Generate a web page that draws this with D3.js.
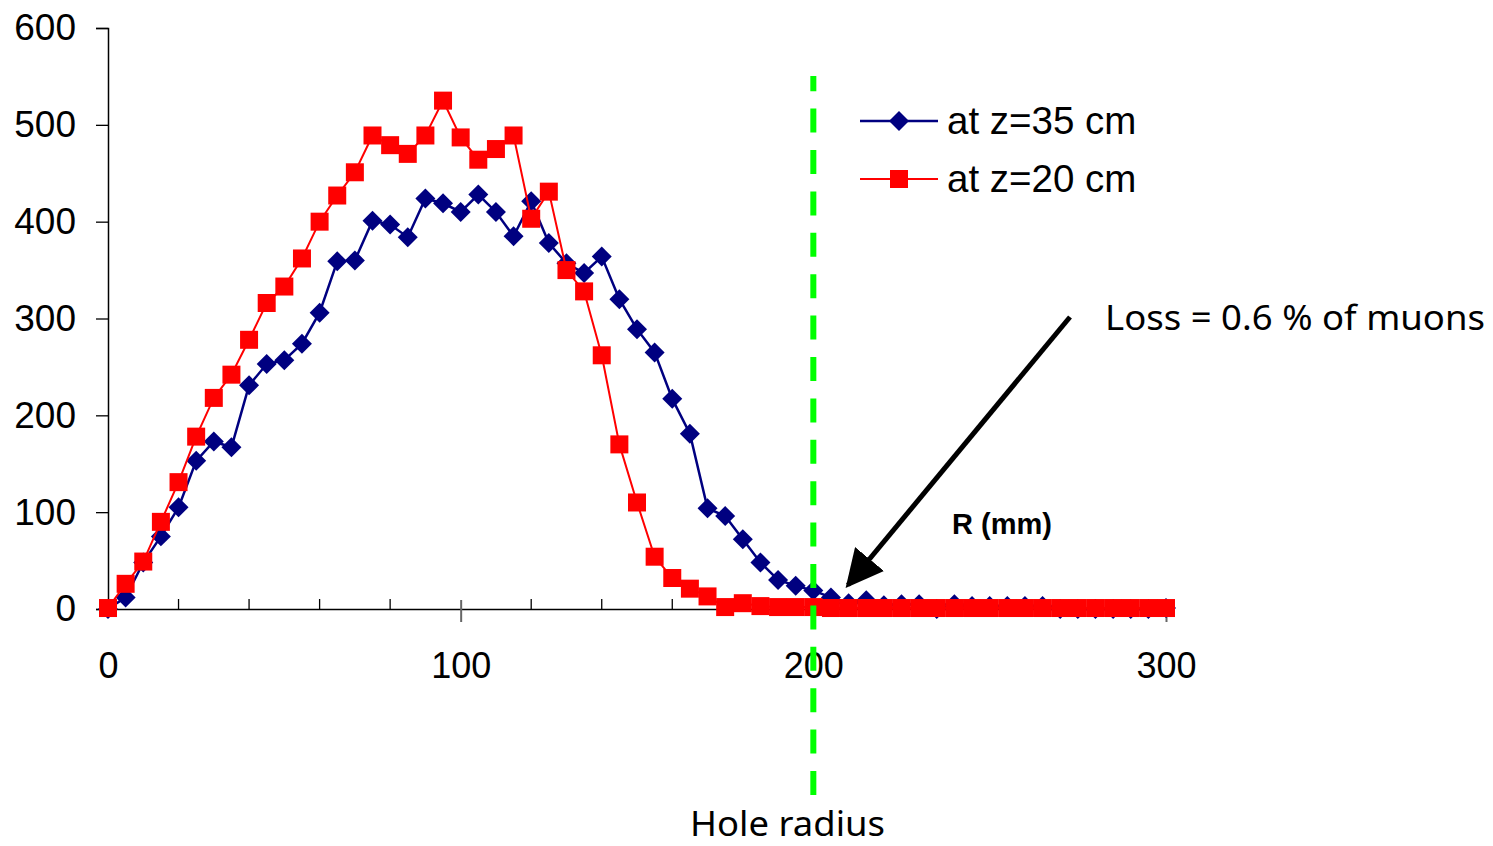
<!DOCTYPE html>
<html>
<head>
<meta charset="utf-8">
<script src="https://cdn.jsdelivr.net/npm/d3@7"></script>
<style>
  html, body { margin: 0; padding: 0; background: #fff; }
  svg { display: block; }
</style>
</head>
<body>
<div id="chart"></div>
<script>
// radius in mm, one point every 5 mm
var radius = d3.range(0, 301, 5);

var seriesNames = ["at z=35 cm", "at z=20 cm"];

var z35 = [0, 12, 48, 75, 105, 153, 173, 167, 231, 253,
           257, 274, 306, 359, 360, 401, 397, 384, 424, 419,
           410, 428, 410, 385, 421, 378, 357, 347, 364, 320,
           289, 265, 217, 181, 104, 96, 72, 48, 30, 24,
           19, 12, 6, 9, 4, 5, 5, 0, 5, 3,
           3, 3, 3, 3, 0, 0, 0, 0, 0, 0, 1];

var z20 = [1, 26, 49, 90, 131, 178, 218, 242, 278, 316,
           333, 362, 400, 427, 451, 489, 479, 470, 489, 525,
           487, 464, 475, 489, 403, 431, 350, 328, 262, 170,
           110, 54, 32, 21, 13, 2, 6, 3, 2, 2,
           2, 1, 1, 1, 1, 1, 1, 1, 1, 1,
           1, 1, 1, 1, 1, 1, 1, 1, 1, 1, 1];

var yTicks = [0, 100, 200, 300, 400, 500, 600];
var xTicks = [0, 100, 200, 300];
var xMinorTicks = d3.range(20, 300, 20).filter(function(v) { return v % 100 !== 0; });
var holeRadius = 200;

var W = 1493, H = 846;
var svg = d3.select("#chart").append("svg").attr("width", W).attr("height", H);

var x = d3.scaleLinear().domain([0, 300]).range([108, 1166]);
var y = d3.scaleLinear().domain([0, 600]).range([609, 28]);

var axisFont = "'Liberation Sans', Arial, sans-serif";
var comicFont = "'Comic Sans MS', 'Noto Sans', sans-serif";

// y axis
var yAxis = svg.append("g").attr("transform", "translate(108,0)")
    .call(d3.axisLeft(y).tickValues(yTicks).tickSize(12).tickPadding(20));
yAxis.select(".domain").attr("stroke", "#000").attr("stroke-width", 1.5);
yAxis.selectAll(".tick line").attr("stroke", "#000").attr("stroke-width", 1.3);
yAxis.selectAll(".tick text").attr("font-family", axisFont).attr("font-size", 37).attr("fill", "#000");

// x axis (line + crossing major ticks + inner minor ticks)
var xAxis = svg.append("g").attr("transform", "translate(0,609)")
    .call(d3.axisBottom(x).tickValues(xTicks).tickSizeInner(13).tickSizeOuter(0).tickPadding(30));
xAxis.select(".domain").attr("stroke", "#000").attr("stroke-width", 1.5);
xAxis.selectAll(".tick line").attr("stroke", "#666").attr("stroke-width", 2).attr("y1", -9);
xAxis.selectAll(".tick text").attr("font-family", axisFont).attr("font-size", 36).attr("fill", "#000");
xAxis.selectAll(".tick").filter(function(d) { return d === 0; }).select("line").remove();

svg.append("g").selectAll("line").data(xMinorTicks).enter().append("line")
    .attr("x1", function(d) { return x(d); }).attr("x2", function(d) { return x(d); })
    .attr("y1", 609).attr("y2", 599)
    .attr("stroke", "#000").attr("stroke-width", 1.3);

// series
var blueColor = "#000080", redColor = "#ff0000";
var line = d3.line().x(function(d) { return x(d[0]); }).y(function(d) { return y(d[1]); });
var diamond = d3.symbol().type(d3.symbolSquare).size(200);
var square = d3.symbol().type(d3.symbolSquare).size(324);

function drawSeries(values, color, width, sym, rotate) {
    var pts = radius.map(function(r, i) { return [r, values[i]]; });
    var g = svg.append("g");
    g.append("path").datum(pts).attr("d", line)
        .attr("fill", "none").attr("stroke", color).attr("stroke-width", width);
    g.selectAll("path.m").data(pts).enter().append("path").attr("class", "m")
        .attr("d", sym)
        .attr("transform", function(d) {
            return "translate(" + x(d[0]) + "," + y(d[1]) + ")" + (rotate ? " rotate(45)" : "");
        })
        .attr("fill", color);
}
drawSeries(z35, blueColor, 2.5, diamond, true);
drawSeries(z20, redColor, 2, square, false);

// hole radius line
svg.append("line")
    .attr("x1", x(holeRadius)).attr("x2", x(holeRadius))
    .attr("y1", 795).attr("y2", 76)
    .attr("stroke", "#00ff00").attr("stroke-width", 6)
    .attr("stroke-dasharray", "24 17.4");

// legend
var legend = [
    { name: seriesNames[0], color: blueColor, sym: diamond, rot: true, w: 2.5, y: 121 },
    { name: seriesNames[1], color: redColor, sym: square, rot: false, w: 2, y: 179 }
];
var lg = svg.append("g").selectAll("g").data(legend).enter().append("g");
lg.append("line").attr("x1", 860).attr("x2", 938)
    .attr("y1", function(d) { return d.y; }).attr("y2", function(d) { return d.y; })
    .attr("stroke", function(d) { return d.color; }).attr("stroke-width", function(d) { return d.w; });
lg.append("path")
    .attr("d", function(d) { return d.sym(); })
    .attr("transform", function(d) { return "translate(899," + d.y + ")" + (d.rot ? " rotate(45)" : ""); })
    .attr("fill", function(d) { return d.color; });
lg.append("text").attr("x", 947).attr("y", function(d) { return d.y + 13; })
    .attr("font-family", axisFont).attr("font-size", 38.5).attr("fill", "#000")
    .text(function(d) { return d.name; });

// axis title
svg.append("text").attr("x", 952).attr("y", 534)
    .attr("font-family", axisFont).attr("font-size", 29).attr("font-weight", "bold")
    .text("R (mm)");

// annotations
var defs = svg.append("defs");
defs.append("marker").attr("id", "arrow")
    .attr("viewBox", "0 0 10 10").attr("refX", 9).attr("refY", 5)
    .attr("markerWidth", 7.5).attr("markerHeight", 7.5).attr("markerUnits", "strokeWidth")
    .attr("orient", "auto")
    .append("path").attr("d", "M0,0 L10,5 L0,10 z").attr("fill", "#000");

svg.append("line")
    .attr("x1", 1070).attr("y1", 317).attr("x2", 848).attr("y2", 585)
    .attr("stroke", "#000").attr("stroke-width", 5)
    .attr("marker-end", "url(#arrow)");

svg.append("text").attr("x", 1105).attr("y", 330)
    .attr("font-family", comicFont).attr("font-size", 35)
    .attr("textLength", 380).attr("lengthAdjust", "spacingAndGlyphs")
    .text("Loss = 0.6 % of muons");

svg.append("text").attr("x", 690).attr("y", 836)
    .attr("font-family", comicFont).attr("font-size", 34)
    .attr("textLength", 195).attr("lengthAdjust", "spacingAndGlyphs")
    .text("Hole radius");
</script>
</body>
</html>
